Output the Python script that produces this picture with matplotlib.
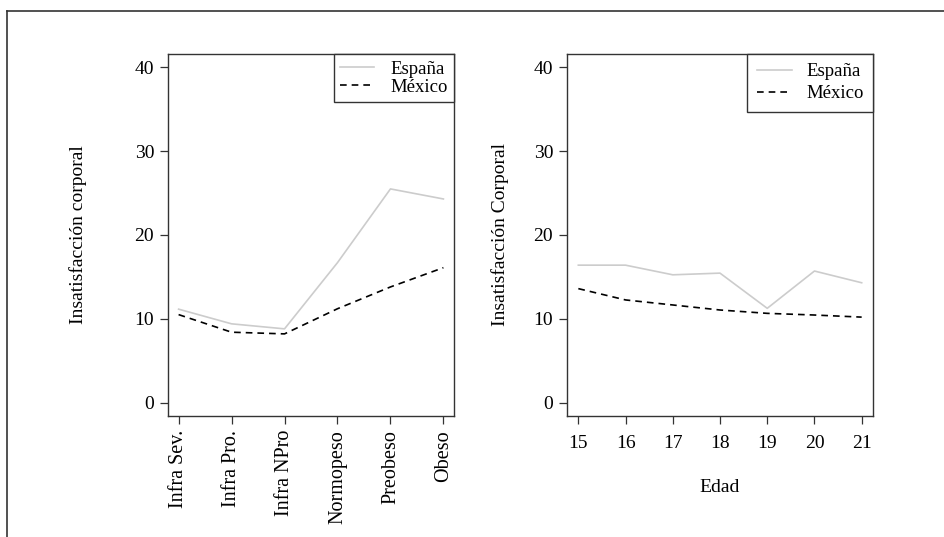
import matplotlib
matplotlib.use("Agg")
import matplotlib.pyplot as plt
from matplotlib.lines import Line2D

plt.rcParams['font.family'] = ['Liberation Serif', 'DejaVu Serif']

categorias = ["Infra Sev.", "Infra Pro.", "Infra NPro", "Normopeso", "Preobeso", "Obeso"]
espana_imc = [11.15, 9.4, 8.8, 16.7, 25.5, 24.3]
mexico_imc = [10.5, 8.4, 8.2, 11.2, 13.8, 16.1]

edades = [15, 16, 17, 18, 19, 20, 21]
espana_edad = [16.4, 16.4, 15.25, 15.45, 11.25, 15.7, 14.3]
mexico_edad = [13.6, 12.25, 11.65, 11.05, 10.65, 10.45, 10.2]

yticks = [0, 10, 20, 30, 40]

W, H = 944, 537
fig = plt.figure(figsize=(W / 100, H / 100), dpi=100)

# outer frame (top and left only)
fig.add_artist(Line2D([7 / W, 1], [1 - 11 / H, 1 - 11 / H], color='#333333', lw=1.2, transform=fig.transFigure))
fig.add_artist(Line2D([7 / W, 7 / W], [0, 1 - 11 / H], color='#333333', lw=1.2, transform=fig.transFigure))

ax1 = fig.add_axes([168 / W, 1 - 416 / H, (454 - 168) / W, (416 - 54) / H])
ax2 = fig.add_axes([567 / W, 1 - 416 / H, (873 - 567) / W, (416 - 54) / H])

gray = '#cccccc'
fs = 14
fs_leg = 13.5

xpos = list(range(1, len(categorias) + 1))
ax1.plot(xpos, espana_imc, color=gray, lw=1.2, label='España')
ax1.plot(xpos, mexico_imc, color='black', lw=1.2, ls=(0, (4, 3)), label='México')
ax1.set_xlim(0.8, 6.2)
ax1.set_xticks(xpos)
ax1.set_xticklabels(categorias, rotation=90, fontsize=14.5)
ax1.set_ylabel('Insatisfacción corporal', fontsize=fs, labelpad=34)

ax2.plot(edades, espana_edad, color=gray, lw=1.2, label='España')
ax2.plot(edades, mexico_edad, color='black', lw=1.2, ls=(0, (4, 3)), label='México')
ax2.set_xlim(14.76, 21.24)
ax2.set_xticks(edades)
ax2.set_xticklabels([str(e) for e in edades], fontsize=fs)
ax2.set_xlabel('Edad', fontsize=fs, labelpad=19)
ax2.set_ylabel('Insatisfacción Corporal', fontsize=fs, labelpad=17.5)

for ax in (ax1, ax2):
    ax.set_ylim(-1.6, 41.6)
    ax.set_yticks(yticks)
    ax.set_yticklabels([str(v) for v in yticks], fontsize=fs)
    ax.tick_params(length=6, width=0.9, color='#333333', pad=4)
    for s in ax.spines.values():
        s.set_color('#333333')
        s.set_linewidth(1.0)
ax2.tick_params(axis='x', pad=8)

leg1 = ax1.legend(loc='upper right', bbox_to_anchor=(1, 1), borderaxespad=0, fancybox=False,
                  edgecolor='#333333', framealpha=1, fontsize=fs_leg, handlelength=1.8,
                  handletextpad=0.85, labelspacing=0.05, borderpad=0.35)
leg1.get_frame().set_linewidth(1.0)
leg2 = ax2.legend(loc='upper right', bbox_to_anchor=(1, 1), borderaxespad=0, fancybox=False,
                  edgecolor='#333333', framealpha=1, fontsize=fs_leg, handlelength=1.9,
                  handletextpad=0.75, labelspacing=0.25, borderpad=0.5)
leg2.get_frame().set_linewidth(1.0)

fig.savefig('out.png', dpi=100)
